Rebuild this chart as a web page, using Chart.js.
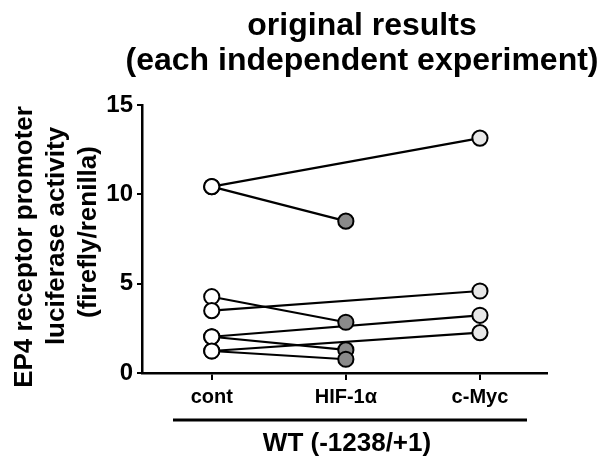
<!DOCTYPE html>
<html>
<head>
<meta charset="utf-8">
<script src="https://cdn.jsdelivr.net/npm/chart.js@4.4.0/dist/chart.umd.min.js"></script>
<style>
  html, body { margin: 0; padding: 0; background: #ffffff; }
  #wrap { width: 600px; height: 458px; position: relative; }
</style>
</head>
<body>
<div id="wrap"><canvas id="c" width="600" height="458"></canvas></div>
<script>
// ---- data ----
const categories = ['cont', 'HIF-1\u03b1', 'c-Myc'];
const yTicks = [0, 5, 10, 15];
// each independent experiment: control value paired with one treatment
const hifCont   = [10.43, 4.27, 2.03, 1.23];
const hifValues = [8.50, 2.84, 1.29, 0.77];
const mycCont   = [10.43, 3.49, 2.03, 1.23];
const mycValues = [13.15, 4.59, 3.23, 2.26];
const titleLines = ['original results', '(each independent experiment)'];
const yTitleLines = ['EP4 receptor promoter', 'luciferase activity', '(firefly/renilla)'];
const groupLabel = 'WT (-1238/+1)';

const FONT = '"Liberation Sans", Arial, Helvetica, sans-serif';
const fillColors = ['#ffffff', '#8a8a8a', '#e8e8e8'];

const datasets = [];
// markers (drawn on top: lower index = drawn last)
const markerSets = [
  { idx: 0, vals: hifCont.concat(mycCont) },
  { idx: 1, vals: hifValues },
  { idx: 2, vals: mycValues }
];
markerSets.forEach(m => {
  datasets.push({
    type: 'scatter',
    data: m.vals.map(v => ({ x: m.idx, y: v })),
    showLine: false,
    pointRadius: 7.6,
    pointHoverRadius: 7.6,
    pointBackgroundColor: fillColors[m.idx],
    pointBorderColor: '#000000',
    pointBorderWidth: 2,
    order: 0
  });
});
// connecting lines
function addLines(conts, vals, idx) {
  conts.forEach((c, i) => {
    datasets.push({
      type: 'line',
      data: [{ x: 0, y: c }, { x: idx, y: vals[i] }],
      borderColor: '#000000',
      borderWidth: 2.2,
      pointRadius: 0,
      fill: false,
      order: 1
    });
  });
}
addLines(hifCont, hifValues, 1);
addLines(mycCont, mycValues, 2);

const annotations = {
  id: 'annotations',
  afterDraw(chart) {
    const ctx = chart.ctx;
    ctx.save();
    ctx.fillStyle = '#000';
    ctx.textAlign = 'center';
    ctx.textBaseline = 'alphabetic';
    ctx.font = 'bold 32px ' + FONT;
    ctx.fillText(titleLines[0], 362, 35);
    ctx.fillText(titleLines[1], 362, 70);
    // y-axis title (rotated)
    ctx.font = 'bold 26px ' + FONT;
    const yCenters = [247, 236, 232];
    const xBase = [32, 64, 96];
    yTitleLines.forEach((t, i) => {
      ctx.save();
      ctx.translate(xBase[i], yCenters[i]);
      ctx.rotate(-Math.PI / 2);
      ctx.fillText(t, 0, 0);
      ctx.restore();
    });
    // group bracket
    ctx.strokeStyle = '#000';
    ctx.lineWidth = 3;
    ctx.beginPath();
    ctx.moveTo(173, 420);
    ctx.lineTo(527, 420);
    ctx.stroke();
    ctx.font = 'bold 26px ' + FONT;
    ctx.fillText(groupLabel, 347, 451);
    ctx.restore();
  }
};

new Chart(document.getElementById('c'), {
  data: { datasets },
  options: {
    responsive: false,
    animation: false,
    events: [],
    layout: { padding: { top: 105, right: 53, bottom: 0, left: 0 } },
    plugins: { legend: { display: false }, tooltip: { enabled: false }, title: { display: false } },
    scales: {
      x: {
        type: 'linear',
        min: -0.52,
        max: 2.5,
        afterBuildTicks(scale) { scale.ticks = categories.map((c, i) => ({ value: i })); },
        afterFit(scale) { scale.height = 85; },
        ticks: {
          callback: v => categories[v],
          color: '#000',
          font: { family: FONT, size: 20, weight: 'bold' },
          padding: 5,
          maxRotation: 0,
          autoSkip: false
        },
        grid: { display: true, drawOnChartArea: false, drawTicks: true, tickLength: 7, color: '#000', lineWidth: 2 },
        border: { display: true, color: '#000', width: 2.5 }
      },
      y: {
        type: 'linear',
        min: 0,
        max: 15,
        afterBuildTicks(scale) { scale.ticks = yTicks.map(v => ({ value: v })); },
        afterFit(scale) { scale.width = 142; },
        ticks: {
          color: '#000',
          font: { family: FONT, size: 24, weight: 'bold' },
          padding: 4
        },
        grid: { display: true, drawOnChartArea: false, drawTicks: true, tickLength: 5, color: '#000', lineWidth: 2 },
        border: { display: true, color: '#000', width: 2.5 }
      }
    }
  },
  plugins: [annotations]
});
</script>
</body>
</html>
